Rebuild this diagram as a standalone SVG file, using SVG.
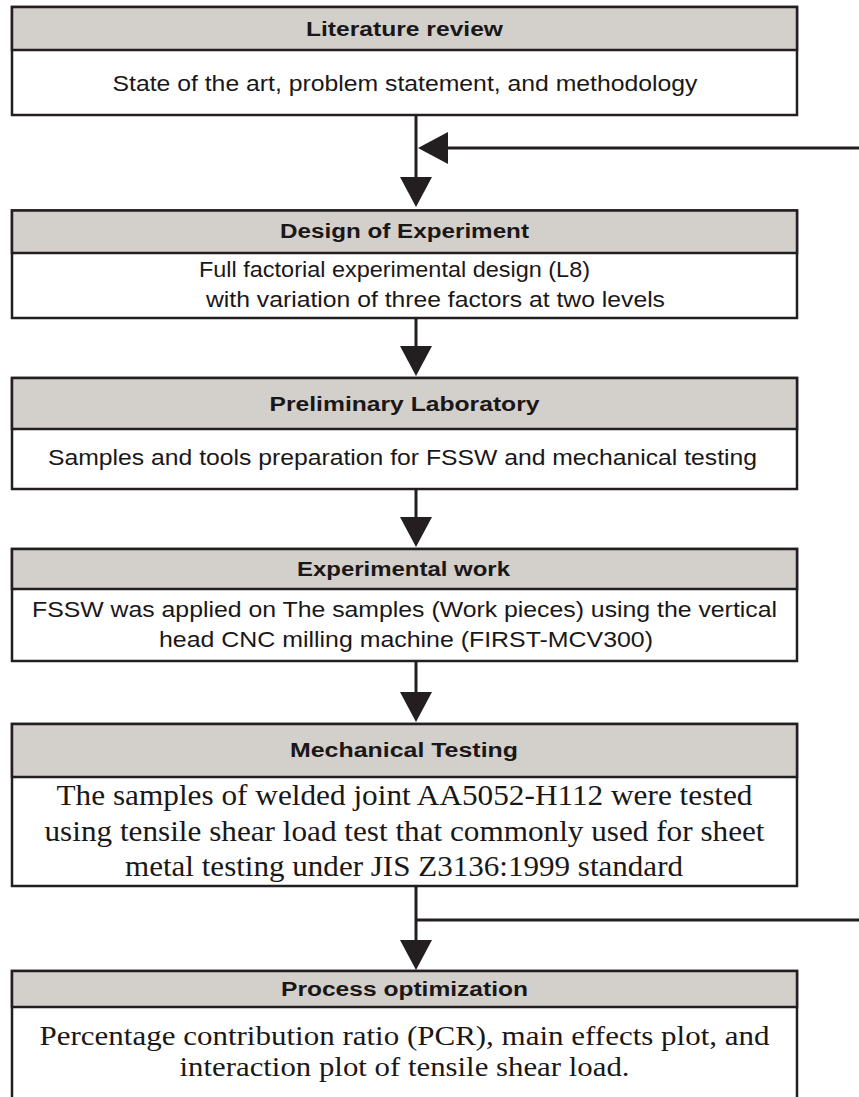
<svg xmlns="http://www.w3.org/2000/svg" width="859" height="1097" viewBox="0 0 859 1097">
<style>
.box{fill:#ffffff;stroke:#231f20;stroke-width:2.5}
.hdr{fill:#d3cfca;stroke:#231f20;stroke-width:2.5}
.ht{font-family:"Liberation Sans",Arial,sans-serif;font-weight:bold;font-size:19.5px;fill:#1a1718;text-anchor:middle}
.bt{font-family:"Liberation Sans",Arial,sans-serif;font-size:22px;fill:#1a1718;text-anchor:middle}
.st{font-family:"Liberation Serif","Times New Roman",serif;font-size:30px;fill:#1a1718;text-anchor:middle}
.st2{font-family:"Liberation Serif","Times New Roman",serif;font-size:28px;fill:#1a1718;text-anchor:middle}
.ln{stroke:#231f20;stroke-width:3;fill:none}
</style>
<defs>
<marker id="ah" markerUnits="userSpaceOnUse" markerWidth="30" markerHeight="32" viewBox="0 0 30 32" refX="0" refY="16" orient="auto">
<path d="M0,0 L30,16 L0,32 z" fill="#231f20"/>
</marker>
</defs>
<rect width="859" height="1097" fill="#ffffff"/>

<g id="connectors">
<line class="ln" x1="416" y1="115" x2="416" y2="177" marker-end="url(#ah)"/>
<line class="ln" x1="859" y1="148" x2="448" y2="148" marker-end="url(#ah)"/>
<line class="ln" x1="416" y1="318" x2="416" y2="346" marker-end="url(#ah)"/>
<line class="ln" x1="416" y1="489" x2="416" y2="517" marker-end="url(#ah)"/>
<line class="ln" x1="416" y1="661" x2="416" y2="692" marker-end="url(#ah)"/>
<line class="ln" x1="416" y1="886" x2="416" y2="940" marker-end="url(#ah)"/>
<line class="ln" x1="416" y1="920" x2="859" y2="920"/>
</g>

<g id="literature-review">
<rect class="box" x="12" y="7" width="785" height="108"/>
<rect class="hdr" x="12" y="7" width="785" height="43"/>
<text class="ht" x="404.5" y="35.5" textLength="197" lengthAdjust="spacingAndGlyphs">Literature review</text>
<text class="bt" x="405" y="90.5" textLength="585" lengthAdjust="spacingAndGlyphs">State of the art, problem statement, and methodology</text>
</g>

<g id="design-of-experiment">
<rect class="box" x="12" y="210.5" width="785" height="107.5"/>
<rect class="hdr" x="12" y="210.5" width="785" height="42.5"/>
<text class="ht" x="404.5" y="238" textLength="249" lengthAdjust="spacingAndGlyphs">Design of Experiment</text>
<text class="bt" x="394.5" y="277" textLength="391" lengthAdjust="spacingAndGlyphs">Full factorial experimental design (L8)</text>
<text class="bt" x="435.5" y="306.5" textLength="459" lengthAdjust="spacingAndGlyphs">with variation of three factors at two levels</text>
</g>

<g id="preliminary-laboratory">
<rect class="box" x="12" y="378" width="785" height="111"/>
<rect class="hdr" x="12" y="378" width="785" height="51"/>
<text class="ht" x="404.5" y="410.5" textLength="270" lengthAdjust="spacingAndGlyphs">Preliminary Laboratory</text>
<text class="bt" x="402.5" y="465" textLength="709" lengthAdjust="spacingAndGlyphs">Samples and tools preparation for FSSW and mechanical testing</text>
</g>

<g id="experimental-work">
<rect class="box" x="12" y="549" width="785" height="112"/>
<rect class="hdr" x="12" y="549" width="785" height="40"/>
<text class="ht" x="403.5" y="576" textLength="213" lengthAdjust="spacingAndGlyphs">Experimental work</text>
<text class="bt" x="404.5" y="617" textLength="745" lengthAdjust="spacingAndGlyphs">FSSW was applied on The samples (Work pieces) using the vertical</text>
<text class="bt" x="406" y="647" textLength="494" lengthAdjust="spacingAndGlyphs">head CNC milling machine (FIRST-MCV300)</text>
</g>

<g id="mechanical-testing">
<rect class="box" x="12" y="724" width="785" height="162"/>
<rect class="hdr" x="12" y="724" width="785" height="53"/>
<text class="ht" x="404" y="757" textLength="228" lengthAdjust="spacingAndGlyphs">Mechanical Testing</text>
<text class="st" x="404.5" y="805" textLength="696" lengthAdjust="spacingAndGlyphs">The samples of welded joint AA5052-H112 were tested</text>
<text class="st" x="404.5" y="840.5" textLength="720" lengthAdjust="spacingAndGlyphs">using tensile shear load test that commonly used for sheet</text>
<text class="st" x="404" y="876" textLength="558" lengthAdjust="spacingAndGlyphs">metal testing under JIS Z3136:1999 standard</text>
</g>

<g id="process-optimization">
<rect class="box" x="12" y="971" width="785" height="140"/>
<rect class="hdr" x="12" y="971" width="785" height="36"/>
<text class="ht" x="404.5" y="995.5" textLength="247" lengthAdjust="spacingAndGlyphs">Process optimization</text>
<text class="st2" x="404.5" y="1045" textLength="730" lengthAdjust="spacingAndGlyphs">Percentage contribution ratio (PCR), main effects plot, and</text>
<text class="st2" x="404.5" y="1076" textLength="450" lengthAdjust="spacingAndGlyphs">interaction plot of tensile shear load.</text>
</g>
</svg>
